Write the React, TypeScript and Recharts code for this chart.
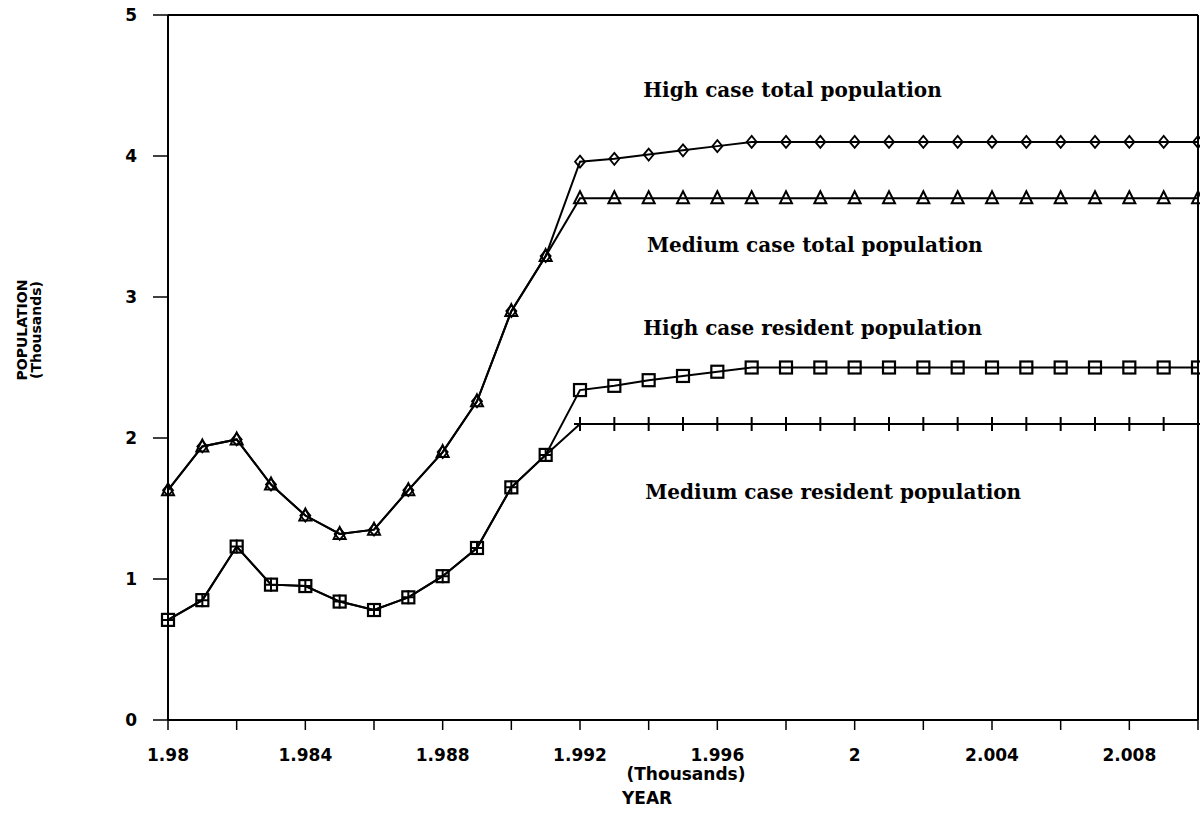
import { LineChart, Line, XAxis, YAxis, ReferenceLine, ReferenceDot } from 'recharts'

// years on the x axis (plotted as-is, labelled in thousands)
const years = [
  1980, 1981, 1982, 1983, 1984, 1985, 1986, 1987, 1988, 1989, 1990,
  1991, 1992, 1993, 1994, 1995, 1996, 1997, 1998, 1999, 2000,
  2001, 2002, 2003, 2004, 2005, 2006, 2007, 2008, 2009, 2010,
]

// population, thousands
const highTotal = [
  1.63, 1.94, 1.99, 1.67, 1.45, 1.32, 1.35, 1.63, 1.9, 2.26, 2.9,
  3.29, 3.96, 3.98, 4.01, 4.04, 4.07, 4.1, 4.1, 4.1, 4.1,
  4.1, 4.1, 4.1, 4.1, 4.1, 4.1, 4.1, 4.1, 4.1, 4.1,
]
const mediumTotal = [
  1.63, 1.94, 1.99, 1.67, 1.45, 1.32, 1.35, 1.63, 1.9, 2.26, 2.9,
  3.29, 3.7, 3.7, 3.7, 3.7, 3.7, 3.7, 3.7, 3.7, 3.7,
  3.7, 3.7, 3.7, 3.7, 3.7, 3.7, 3.7, 3.7, 3.7, 3.7,
]
const highResident = [
  0.71, 0.85, 1.23, 0.96, 0.95, 0.84, 0.78, 0.87, 1.02, 1.22, 1.65,
  1.88, 2.34, 2.37, 2.41, 2.44, 2.47, 2.5, 2.5, 2.5, 2.5,
  2.5, 2.5, 2.5, 2.5, 2.5, 2.5, 2.5, 2.5, 2.5, 2.5,
]
const mediumResident = [
  0.71, 0.85, 1.23, 0.96, 0.95, 0.84, 0.78, 0.87, 1.02, 1.22, 1.65,
  1.88, 2.1, 2.1, 2.1, 2.1, 2.1, 2.1, 2.1, 2.1, 2.1,
  2.1, 2.1, 2.1, 2.1, 2.1, 2.1, 2.1, 2.1, 2.1, 2.1,
]

const xTicks = [1980, 1982, 1984, 1986, 1988, 1990, 1992, 1994, 1996, 1998, 2000, 2002, 2004, 2006, 2008, 2010]
const xLabelYears = [1980, 1984, 1988, 1992, 1996, 2000, 2004, 2008]
const xLabels = ['1.98', '1.984', '1.988', '1.992', '1.996', '2', '2.004', '2.008']
const yTicks = [0, 1, 2, 3, 4, 5]

// line captions, anchored at the left end of the baseline (year, value)
const captions = [
  { text: 'High case total population', year: 1993.84, value: 4.42 },
  { text: 'Medium case total population', year: 1993.95, value: 3.32 },
  { text: 'High case resident population', year: 1993.84, value: 2.73 },
  { text: 'Medium case resident population', year: 1993.9, value: 1.57 },
]

const data = years.map((y, i) => ({
  year: y,
  highTotal: highTotal[i],
  mediumTotal: mediumTotal[i],
  highResident: highResident[i],
  mediumResident: mediumResident[i],
}))

const INK = '#000'
const SANS = 'DejaVu Sans, Liberation Sans, Arial, sans-serif'
const tickFont = { fontFamily: SANS, fontSize: 17, fontWeight: 700, fill: INK }

// hollow markers, the line shows through them like on the scan
const DiamondDot = (p: any) => {
  const { cx, cy } = p
  if (cx == null || cy == null) return null
  return <path d={`M${cx},${cy - 6}L${cx + 5},${cy}L${cx},${cy + 6}L${cx - 5},${cy}Z`} fill="none" stroke={INK} strokeWidth={1.8} />
}
const TriangleDot = (p: any) => {
  const { cx, cy } = p
  if (cx == null || cy == null) return null
  return <path d={`M${cx},${cy - 7}L${cx + 6},${cy + 5}L${cx - 6},${cy + 5}Z`} fill="none" stroke={INK} strokeWidth={2} />
}
const SquareDot = (p: any) => {
  const { cx, cy } = p
  if (cx == null || cy == null) return null
  return <rect x={cx - 6} y={cy - 6} width={12} height={12} fill="none" stroke={INK} strokeWidth={2.2} />
}
const PlusDot = (p: any) => {
  const { cx, cy } = p
  if (cx == null || cy == null) return null
  return <path d={`M${cx},${cy - 7}V${cy + 7}M${cx - 6},${cy}H${cx + 6}`} fill="none" stroke={INK} strokeWidth={2} />
}

const XTitle = (props: any) => {
  const { viewBox } = props
  const cx = viewBox.x + viewBox.width / 2 + 3
  const f = { fontFamily: SANS, fontSize: 17, fontWeight: 700, fill: INK }
  return (
    <g>
      <text x={cx} y={780} textAnchor="middle" {...f}>(Thousands)</text>
      <text x={cx - 64} y={804} textAnchor="start" {...f}>YEAR</text>
    </g>
  )
}

const YTitle = () => {
  const f = { fontFamily: SANS, fontSize: 14, fontWeight: 700, fill: INK }
  return (
    <g>
      <text x={0} y={0} transform="translate(27,330) rotate(-90)" textAnchor="middle" {...f}>POPULATION</text>
      <text x={0} y={0} transform="translate(41,330) rotate(-90)" textAnchor="middle" {...f}>(Thousands)</text>
    </g>
  )
}

const Caption = (text: string) => (props: any) => {
  const { viewBox } = props
  return (
    <text
      x={viewBox.x}
      y={viewBox.y}
      fontFamily="DejaVu Serif, Liberation Serif, serif"
      fontWeight={700}
      fontSize={20}
      fill={INK}
      style={{ whiteSpace: 'pre' }}
    >
      {text}
    </text>
  )
}

export default function App() {
  return (
    <div style={{ position: 'absolute', left: 0, top: 0, width: 1200, height: 821, background: '#fff' }}>
      <LineChart width={1200} height={821} data={data} margin={{ top: 15, right: 2, left: 0, bottom: 0 }}>
        <XAxis
          dataKey="year"
          type="number"
          domain={[1980, 2010]}
          ticks={xTicks}
          interval={0}
          tickFormatter={(v: number) => {
            const i = xLabelYears.indexOf(v)
            return i >= 0 ? xLabels[i] : ''
          }}
          tickSize={10}
          tickMargin={19}
          height={101}
          axisLine={{ stroke: INK, strokeWidth: 2 }}
          tickLine={{ stroke: INK, strokeWidth: 1.5 }}
          tick={tickFont}
          label={{ content: XTitle }}
        />
        <YAxis
          type="number"
          domain={[0, 5]}
          ticks={yTicks}
          interval={0}
          width={168}
          tickSize={15}
          tickMargin={16}
          axisLine={{ stroke: INK, strokeWidth: 2 }}
          tickLine={{ stroke: INK, strokeWidth: 1.5 }}
          tick={tickFont}
          label={{ content: YTitle }}
        />
        <ReferenceLine y={5} stroke={INK} strokeWidth={2} />
        <ReferenceLine x={2010} stroke={INK} strokeWidth={2} />
        <Line type="linear" dataKey="highTotal" stroke={INK} strokeWidth={2} dot={<DiamondDot />} isAnimationActive={false} />
        <Line type="linear" dataKey="mediumTotal" stroke={INK} strokeWidth={2} dot={<TriangleDot />} isAnimationActive={false} />
        <Line type="linear" dataKey="highResident" stroke={INK} strokeWidth={2} dot={<SquareDot />} isAnimationActive={false} />
        <Line type="linear" dataKey="mediumResident" stroke={INK} strokeWidth={2} dot={<PlusDot />} isAnimationActive={false} />
        {captions.map((c) => (
          <ReferenceDot
            key={c.text}
            x={c.year}
            y={c.value}
            r={0}
            fill="none"
            stroke="none"
            label={{ content: Caption(c.text) }}
          />
        ))}
      </LineChart>
    </div>
  )
}
